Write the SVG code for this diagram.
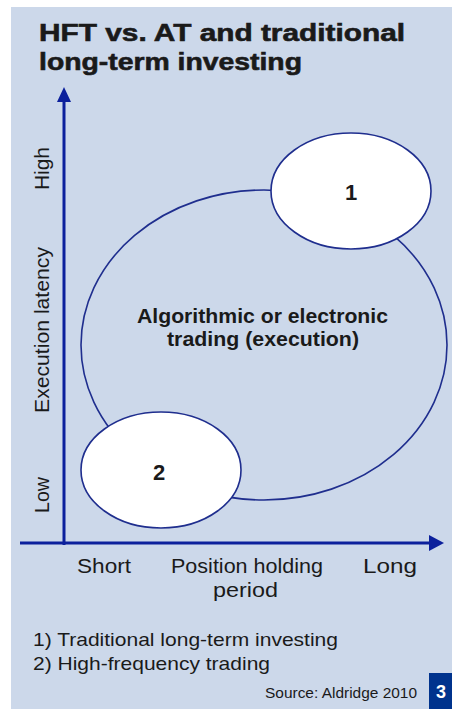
<svg xmlns="http://www.w3.org/2000/svg" width="452" height="709" viewBox="0 0 452 709">
<style>
text{font-family:"Liberation Sans",Arial,sans-serif;fill:#1a1a1a}
.title{font-size:24px;font-weight:bold;stroke:#1a1a1a;stroke-width:0.6}
.lbl{font-size:20px}
.bold{font-size:20px;font-weight:bold}
.num{font-size:22px;font-weight:bold}
.leg{font-size:19px}
.axis{stroke:#0c209c;stroke-width:3;fill:none}
.ell{stroke:#1f2e8e;stroke-width:1.6}
</style>
<rect x="0" y="0" width="452" height="709" fill="#ffffff"/>
<rect x="11" y="7" width="441" height="702" fill="#ccd8ea"/>
<g id="title">
<text class="title" x="39" y="41" textLength="366" lengthAdjust="spacingAndGlyphs">HFT vs. AT and traditional</text>
<text class="title" x="39" y="70" textLength="263" lengthAdjust="spacingAndGlyphs">long-term investing</text>
</g>
<g id="connectors">
<line class="axis" x1="64" y1="545" x2="64" y2="100"/>
<polygon points="64,87 57,102 71,102" fill="#0c209c"/>
<line class="axis" x1="20" y1="543" x2="431" y2="543"/>
<polygon points="444,543 429,535 429,551" fill="#0c209c"/>
</g>
<g id="node-at">
<ellipse class="ell" cx="264" cy="345" rx="183" ry="155" fill="none"/>
<text class="bold" x="262.5" y="323" text-anchor="middle" textLength="251" lengthAdjust="spacingAndGlyphs">Algorithmic or electronic</text>
<text class="bold" x="263" y="346" text-anchor="middle" textLength="192" lengthAdjust="spacingAndGlyphs">trading (execution)</text>
</g>
<g id="node-1">
<ellipse class="ell" cx="351" cy="191" rx="80" ry="58" fill="#ffffff"/>
<text class="num" x="351" y="200" text-anchor="middle">1</text>
</g>
<g id="node-2">
<ellipse class="ell" cx="161" cy="470" rx="80" ry="58" fill="#ffffff"/>
<text class="num" x="159" y="480" text-anchor="middle">2</text>
</g>
<g id="y-labels">
<text class="lbl" text-anchor="middle" transform="translate(49 168.5) rotate(-90)" textLength="43" lengthAdjust="spacingAndGlyphs">High</text>
<text class="lbl" text-anchor="middle" transform="translate(49 330) rotate(-90)" textLength="166" lengthAdjust="spacingAndGlyphs">Execution latency</text>
<text class="lbl" text-anchor="middle" transform="translate(49 495) rotate(-90)" textLength="36" lengthAdjust="spacingAndGlyphs">Low</text>
</g>
<g id="x-labels">
<text class="lbl" x="77" y="573" textLength="54" lengthAdjust="spacingAndGlyphs">Short</text>
<text class="lbl" x="171" y="573" textLength="152" lengthAdjust="spacingAndGlyphs">Position holding</text>
<text class="lbl" x="213" y="597" textLength="65" lengthAdjust="spacingAndGlyphs">period</text>
<text class="lbl" x="363" y="573" textLength="54" lengthAdjust="spacingAndGlyphs">Long</text>
</g>
<g id="legend">
<text class="leg" x="33" y="646" textLength="305" lengthAdjust="spacingAndGlyphs">1) Traditional long-term investing</text>
<text class="leg" x="33" y="670" textLength="237" lengthAdjust="spacingAndGlyphs">2) High-frequency trading</text>
</g>
<g id="source">
<text x="265" y="698" style="font-size:14px" textLength="152" lengthAdjust="spacingAndGlyphs">Source: Aldridge 2010</text>
<rect x="429" y="673" width="23" height="36" fill="#00338d"/>
<text x="441" y="698" text-anchor="middle" style="font-size:18px;font-weight:bold;fill:#ffffff">3</text>
</g>
</svg>
